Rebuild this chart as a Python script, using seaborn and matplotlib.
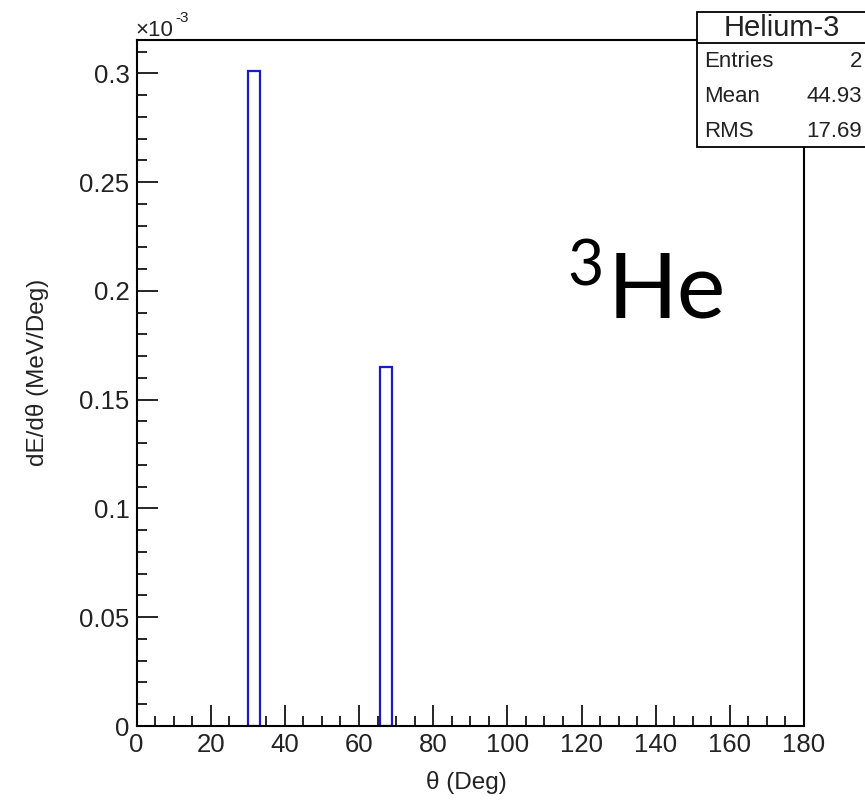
import matplotlib
matplotlib.use("Agg")
import matplotlib.pyplot as plt
from matplotlib.patches import Rectangle
from matplotlib.lines import Line2D
from matplotlib.ticker import MultipleLocator
import seaborn as sns
import pandas as pd

# ---- data ----
bin_edges = [30.0, 33.4, 65.6, 69.0]          # deg
bar_centers = [31.7, 67.3]                     # deg
bar_values = [0.301, 0.165]                    # dE/dtheta in units of 1e-3 MeV/Deg
stats_title = "Helium-3"
stats_labels = ["Entries", "Mean", "RMS"]
stats_values = ["2", "44.93", "17.69"]
x_ticks = [0, 20, 40, 60, 80, 100, 120, 140, 160, 180]
y_ticks = [0, 0.05, 0.1, 0.15, 0.2, 0.25, 0.3]
y_tick_labels = ["0", "0.05", "0.1", "0.15", "0.2", "0.25", "0.3"]

df = pd.DataFrame({"theta": bar_centers, "dE": bar_values})

sns.set_theme(style="white")
plt.rcParams["font.family"] = ["Liberation Sans", "DejaVu Sans"]

fig = plt.figure(figsize=(8.65, 8.01), dpi=100)
ax = fig.add_axes([136.5 / 865, 75 / 801, (804 - 136.5) / 865, 686 / 801])

sns.histplot(data=df, x="theta", weights="dE", bins=bin_edges, fill=False,
             element="bars", color="#1a1ac8", linewidth=1.6, ax=ax)
for p in list(ax.patches):
    if p.get_height() == 0:
        p.remove()

ax.set_xlim(0, 180)
ax.set_ylim(0, 0.3153)
ax.set_xticks(x_ticks)
ax.set_xticklabels([str(t) for t in x_ticks])
ax.set_yticks(y_ticks)
ax.set_yticklabels(y_tick_labels)
ax.xaxis.set_minor_locator(MultipleLocator(5))
ax.yaxis.set_minor_locator(MultipleLocator(0.01))
ax.tick_params(axis="both", which="major", direction="in", length=15, width=1.2,
               color="black", labelsize=18.5, pad=5, labelcolor="#222222")
ax.tick_params(axis="both", which="minor", direction="in", length=7.5, width=1.2,
               color="black")
ax.tick_params(bottom=True, left=True, top=False, right=False, which="both")
for s in ax.spines.values():
    s.set_color("black")
    s.set_linewidth(1.5)
ax.grid(False)

ax.set_xlabel("θ (Deg)", fontsize=17.5, color="#222222")
ax.set_ylabel("dE/dθ (MeV/Deg)", fontsize=17.5, color="#222222")
ax.xaxis.set_label_coords(0.494, -0.066)
ax.yaxis.set_label_coords(-0.131, 0.516)

# x10^-3 multiplier
fig.text(135 / 865, 1 - 36 / 801, "×10", fontsize=16, color="#222222", va="baseline", ha="left")
fig.text(175 / 865, 1 - 22 / 801, "-3", fontsize=11, color="#222222", va="baseline", ha="left")

# 3He label
fig.text(567 / 865, 1 - 285 / 801, "3", fontsize=45, family="Lato", va="baseline", ha="left", color="black")
fig.text(608 / 865, 1 - 317 / 801, "He", fontsize=66, family="Lato", va="baseline", ha="left", color="black")

# stats box
bx0, bx1 = 697 / 865, 1.01
by0, by1 = 1 - 147 / 801, 1 - 12 / 801
ysep = 1 - 43 / 801
box = Rectangle((bx0, by0), bx1 - bx0, by1 - by0, transform=fig.transFigure,
                facecolor="white", edgecolor="black", linewidth=1.3, zorder=5, clip_on=False)
fig.add_artist(box)
fig.add_artist(Line2D([bx0, bx1], [ysep, ysep], transform=fig.transFigure,
                      color="black", linewidth=1.3, zorder=6))
fig.text(782 / 865, 1 - 28 / 801, stats_title, fontsize=21, ha="center", va="center",
         color="#222222", zorder=7)
baselines = [67, 102, 137]
for lab, val, b in zip(stats_labels, stats_values, baselines):
    fig.text(704 / 865, 1 - b / 801, lab, fontsize=16, ha="left", va="baseline",
             color="#222222", zorder=7)
    fig.text(862 / 865, 1 - b / 801, val, fontsize=16, ha="right", va="baseline",
             color="#222222", zorder=7)

fig.savefig("out.png", dpi=100)
